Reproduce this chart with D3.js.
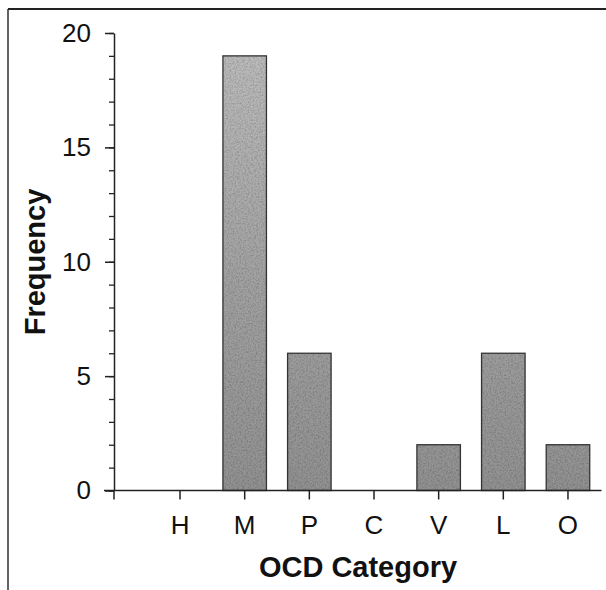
<!DOCTYPE html>
<html>
<head>
<meta charset="utf-8">
<script src="https://cdn.jsdelivr.net/npm/d3@7"></script>
<style>
  html, body { margin: 0; padding: 0; background: #fff; }
  svg { display: block; }
  text { font-family: "Liberation Sans", Arial, Helvetica, sans-serif; fill: #111; }
</style>
</head>
<body>
<svg id="chart" width="606" height="590"></svg>
<script>
const categories = ["H", "M", "P", "C", "V", "L", "O"];
const frequency  = [0, 19, 6, 0, 2, 6, 2];
const majorTicks = [0, 5, 10, 15, 20];
const minorTicks = d3.range(0, 21, 1);
const yTitle = "Frequency";
const xTitle = "OCD Category";

const svg = d3.select("#chart");

const y = d3.scaleLinear().domain([0, 20]).range([490.5, 33]);
const x = d3.scaleBand().domain(categories).range([147.7, 600.3])
  .paddingInner(0.327).paddingOuter(0.1635);
const axisX = 114;

// defs: gradient + grain
const defs = svg.append("defs");
const grad = defs.append("linearGradient").attr("id", "barGrad")
  .attr("gradientUnits", "userSpaceOnUse")
  .attr("x1", 0).attr("x2", 0).attr("y1", y(20)).attr("y2", y(0));
grad.append("stop").attr("offset", 0).attr("stop-color", "#bebebe");
grad.append("stop").attr("offset", 0.55).attr("stop-color", "#a2a2a2");
grad.append("stop").attr("offset", 1).attr("stop-color", "#929292");

const f = defs.append("filter").attr("id", "grain")
  .attr("x", 0).attr("y", 0).attr("width", 1).attr("height", 1);
f.append("feTurbulence").attr("type", "fractalNoise").attr("baseFrequency", 0.6)
  .attr("numOctaves", 2).attr("seed", 4).attr("result", "noise");
f.append("feColorMatrix").attr("in", "noise").attr("type", "matrix")
  .attr("values", "0 0 0 0 0  0 0 0 0 0  0 0 0 0 0  0.8 0 0 0 -0.3")
  .attr("result", "dark");
f.append("feComposite").attr("in", "dark").attr("in2", "SourceGraphic")
  .attr("operator", "in").attr("result", "d2");
const fm = f.append("feMerge");
fm.append("feMergeNode").attr("in", "SourceGraphic");
fm.append("feMergeNode").attr("in", "d2");

// frame
svg.append("line").attr("x1", 8).attr("x2", 606).attr("y1", 9).attr("y2", 9)
  .attr("stroke", "#222").attr("stroke-width", 2);
svg.append("line").attr("x1", 8).attr("x2", 8).attr("y1", 9).attr("y2", 590)
  .attr("stroke", "#222").attr("stroke-width", 1.4);

// bars
const data = categories.map((c, i) => ({ c, v: frequency[i] }));
svg.append("g").selectAll("rect").data(data.filter(d => d.v > 0)).join("rect")
  .attr("x", d => x(d.c))
  .attr("y", d => y(d.v))
  .attr("width", x.bandwidth())
  .attr("height", d => y(0) - y(d.v))
  .attr("fill", "url(#barGrad)")
  .attr("filter", "url(#grain)");
svg.append("g").selectAll("rect").data(data.filter(d => d.v > 0)).join("rect")
  .attr("x", d => x(d.c))
  .attr("y", d => y(d.v))
  .attr("width", x.bandwidth())
  .attr("height", d => y(0) - y(d.v))
  .attr("fill", "none")
  .attr("stroke", "#333").attr("stroke-width", 1.3);

// y axis minor ticks
const yMinor = svg.append("g").attr("transform", `translate(${axisX},0)`)
  .call(d3.axisLeft(y).tickValues(minorTicks).tickSize(5).tickFormat(""));
yMinor.select(".domain").remove();
yMinor.selectAll("line").attr("stroke", "#222").attr("stroke-width", 1.3);

// y axis major
const yAxis = svg.append("g").attr("transform", `translate(${axisX},0)`)
  .call(d3.axisLeft(y).tickValues(majorTicks).tickSize(9).tickSizeOuter(0).tickPadding(14));
yAxis.attr("font-size", null).attr("font-family", null);
yAxis.select(".domain").attr("stroke", "#222").attr("stroke-width", 1.5);
yAxis.selectAll("line").attr("stroke", "#222").attr("stroke-width", 1.5);
yAxis.selectAll("text").style("font-size", "26px").attr("fill", "#111");

// x axis
svg.append("line").attr("x1", 104).attr("x2", 601.5).attr("y1", y(0)).attr("y2", y(0))
  .attr("stroke", "#222").attr("stroke-width", 1.5);
const xAxis = svg.append("g").attr("transform", `translate(0,${y(0)})`)
  .call(d3.axisBottom(x).tickSize(9).tickSizeOuter(0).tickPadding(16));
xAxis.attr("font-size", null).attr("font-family", null);
xAxis.select(".domain").remove();
xAxis.selectAll("line").attr("stroke", "#222").attr("stroke-width", 1.5);
xAxis.selectAll("text").style("font-size", "26px").attr("fill", "#111");
// tick at origin
svg.append("line").attr("x1", axisX).attr("x2", axisX).attr("y1", y(0)).attr("y2", y(0) + 9)
  .attr("stroke", "#222").attr("stroke-width", 1.5);

// titles
svg.append("text")
  .attr("transform", `translate(45,${262}) rotate(-90)`)
  .attr("text-anchor", "middle")
  .style("font-size", "29px").attr("font-weight", "bold")
  .text(yTitle);
svg.append("text")
  .attr("x", 358).attr("y", 577)
  .attr("text-anchor", "middle")
  .style("font-size", "29px").attr("font-weight", "bold")
  .text(xTitle);
</script>
</body>
</html>
